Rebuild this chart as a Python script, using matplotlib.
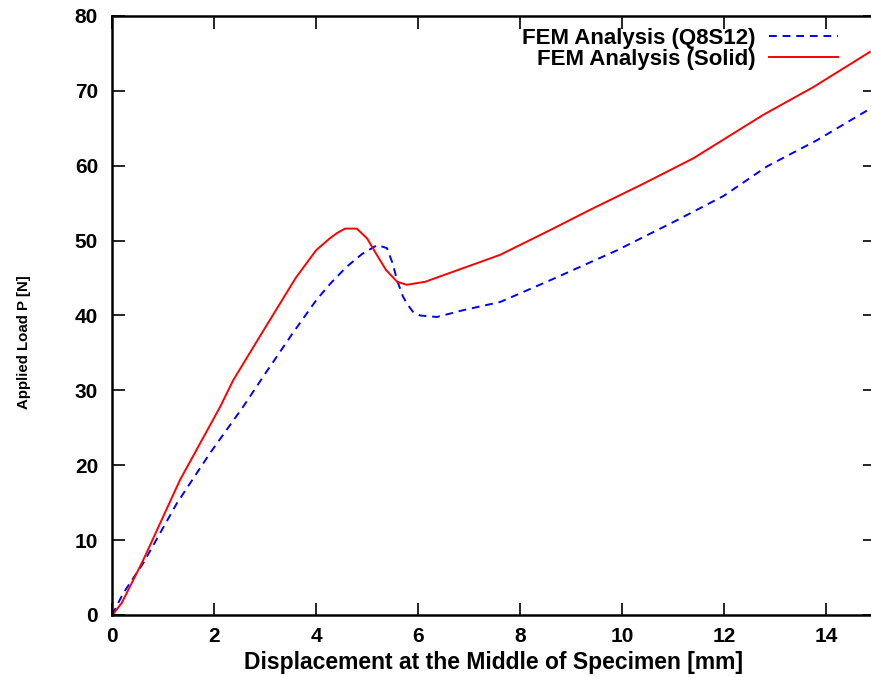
import numpy as np
import matplotlib.pyplot as plt

# displacement [mm] / load [N]
x_q8s12 = [0, 0.22, 0.61, 1.27, 1.92, 2.57, 3.0, 3.36, 3.55, 4.01, 4.3, 4.6, 4.9,
           5.2, 5.39, 5.5, 5.59, 5.7, 5.78, 5.9, 6.04, 6.37, 6.88, 7.61, 8.59, 9.9, 11.07,
           12.0, 12.84, 13.82, 14.86]
y_q8s12 = [0, 2.9, 6.9, 14.9, 21.6, 27.8, 32.2, 35.8, 37.7, 42.1, 44.4, 46.5, 48.2,
           49.4, 49.0, 47.0, 44.7, 42.6, 41.6, 40.5, 40.0, 39.8, 40.7, 41.8, 44.7, 48.7, 52.7,
           56.0, 59.9, 63.4, 67.6]

x_solid = [0, 0.03, 0.19, 0.61, 1.33, 2.12, 2.38, 2.97, 3.6, 4.0, 4.27, 4.41, 4.57,
           4.8, 5.0, 5.2, 5.37, 5.59, 5.78, 6.14, 6.63, 7.61, 8.59, 9.37, 10.42, 11.40,
           12.77, 13.75, 14.86]
y_solid = [0, 0.2, 1.6, 7.3, 18.0, 27.8, 31.4, 38.0, 45.0, 48.7, 50.3, 51.0, 51.6,
           51.6, 50.3, 48.0, 46.1, 44.5, 44.1, 44.5, 45.7, 48.1, 51.4, 54.1, 57.6, 61.0,
           66.8, 70.5, 75.2]

plt.rcParams['font.family'] = ['Liberation Sans', 'DejaVu Sans']
plt.rcParams['font.weight'] = 'bold'

fig = plt.figure(figsize=(8.71, 6.77), dpi=100)
ax = fig.add_axes([0.1286, 0.0916, 0.8760, 0.8848])

ax.plot(x_q8s12, y_q8s12, color='#0000ff', linestyle=(0, (4, 3)), linewidth=1.4,
        label='FEM Analysis (Q8S12)')
ax.plot(x_solid, y_solid, color='#ff0000', linewidth=1.4, label='FEM Analysis (Solid)')

ax.set_xlim(0, 14.96)
ax.set_ylim(0, 80)
ax.set_xticks(np.arange(0, 15, 2))
ax.set_yticks(np.arange(0, 81, 10))
ax.tick_params(direction='in', length=9, width=1.2, top=True, right=True, labelsize=15)
ax.tick_params(axis='y', pad=10)
ax.tick_params(axis='x', pad=9)
for lab in ax.get_xticklabels() + ax.get_yticklabels():
    lab.set_fontweight('bold')
for s in ['left', 'bottom', 'top']:
    ax.spines[s].set_linewidth(1.8)
ax.spines['right'].set_visible(False)

ax.set_xlabel('Displacement at the Middle of Specimen [mm]', fontsize=16.5, fontweight='bold',
              labelpad=3)
ax.set_ylabel('Applied Load P [N]', fontsize=10.8, fontweight='bold')
ax.yaxis.set_label_coords(-0.106, 0.456)

leg = ax.legend(loc='upper right', frameon=False, markerfirst=False, fontsize=16,
                handlelength=3.1, handletextpad=0.6, borderaxespad=0.0, labelspacing=0.0,
                bbox_to_anchor=(0.963, 0.995))
for t in leg.get_texts():
    t.set_fontweight('bold')

fig.savefig('out.png', dpi=100)
